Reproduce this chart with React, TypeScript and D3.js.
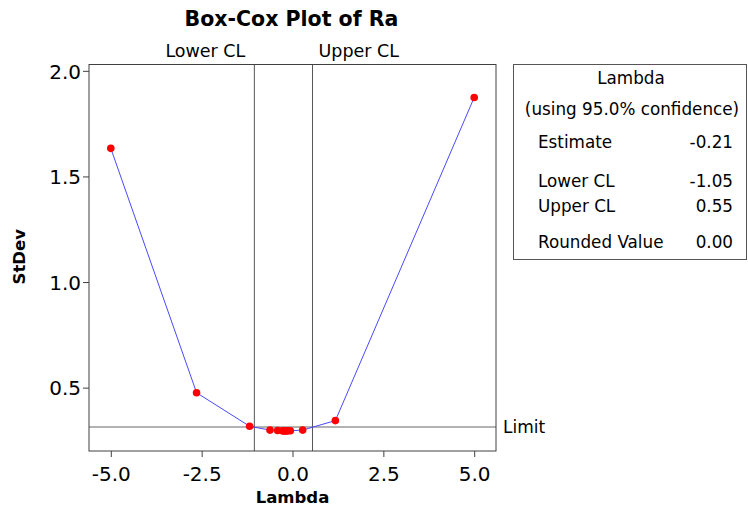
import React, { useEffect, useRef } from 'react';
import * as d3 from 'd3';

// lambda values evaluated by the search, and the StDev at each
const lambdas = [-5, -2.64, -1.18, -0.62, -0.41, -0.28, -0.23, -0.19, -0.14, -0.06, 0.28, 1.18, 5];
const stdevs = [1.633, 0.476, 0.317, 0.299, 0.297, 0.2955, 0.295, 0.295, 0.2952, 0.2958, 0.299, 0.344, 1.874];

const xTicks = [-5, -2.5, 0, 2.5, 5];
const yTicks = [0.5, 1.0, 1.5, 2.0];

const lowerCL = -1.05;
const upperCL = 0.55;
const limit = 0.314;

const tableLabels = ['Estimate', 'Lower CL', 'Upper CL', 'Rounded Value'];
const tableValues = ['-0.21', '-1.05', '0.55', '0.00'];

const FONT = '"DejaVu Sans", Tahoma, sans-serif';

const App = () => {
  const svgRef = useRef<SVGSVGElement>(null);

  useEffect(() => {
    const svg = d3.select(svgRef.current);
    svg.selectAll('*').remove();

    const left = 89, right = 496, top = 64.5, bottom = 451;

    const x = d3.scaleLinear().domain([-5.6, 5.6]).range([left, right]);
    const y = d3.scaleLinear().domain([0.2, 2.03]).range([bottom, top]);

    svg.append('rect')
      .attr('width', 748).attr('height', 511).attr('fill', '#fff');

    // title
    svg.append('text')
      .attr('x', 291.5).attr('y', 26)
      .attr('text-anchor', 'middle')
      .style('font-family', FONT).style('font-weight', 'bold').style('font-size', '20.5px')
      .text('Box-Cox Plot of Ra');

    // axes
    const xAxis = svg.append('g')
      .attr('transform', `translate(0,${bottom})`)
      .call(d3.axisBottom(x).tickValues(xTicks).tickSize(6).tickSizeOuter(0)
        .tickFormat(d => (d as number).toFixed(1)));
    const yAxis = svg.append('g')
      .attr('transform', `translate(${left},0)`)
      .call(d3.axisLeft(y).tickValues(yTicks).tickSize(6).tickSizeOuter(0)
        .tickFormat(d => (d as number).toFixed(1)));

    [xAxis, yAxis].forEach(a => {
      a.select('.domain').remove();
      a.selectAll('line').attr('stroke', '#404040');
      a.selectAll('text')
        .style('font-family', FONT).style('font-size', '20px').attr('fill', '#000');
    });
    xAxis.selectAll('text').attr('dy', '1.05em');
    yAxis.selectAll('text').attr('x', -8).attr('dy', '0.36em');

    // reference lines
    svg.append('line')
      .attr('x1', left).attr('x2', right)
      .attr('y1', y(limit)).attr('y2', y(limit))
      .attr('stroke', '#999').attr('stroke-width', 1.5);
    [lowerCL, upperCL].forEach(v => {
      svg.append('line')
        .attr('x1', x(v)).attr('x2', x(v))
        .attr('y1', top).attr('y2', bottom)
        .attr('stroke', '#555').attr('stroke-width', 1);
    });

    // frame
    svg.append('rect')
      .attr('x', left).attr('y', top)
      .attr('width', right - left).attr('height', bottom - top)
      .attr('fill', 'none').attr('stroke', '#404040').attr('stroke-width', 1);

    // curve
    const pts = lambdas.map((l, i) => [l, stdevs[i]] as [number, number]);
    svg.append('path')
      .datum(pts)
      .attr('fill', 'none')
      .attr('stroke', '#4a4aff')
      .attr('stroke-width', 1)
      .attr('d', d3.line<[number, number]>().x(d => x(d[0])).y(d => y(d[1])));

    svg.selectAll('.pt')
      .data(pts)
      .enter().append('circle')
      .attr('class', 'pt')
      .attr('cx', d => x(d[0]))
      .attr('cy', d => y(d[1]))
      .attr('r', 3.8)
      .attr('fill', '#ff0000');

    // labels
    svg.append('text')
      .attr('x', x(lowerCL) - 9).attr('y', 57)
      .attr('text-anchor', 'end')
      .style('font-family', FONT).style('font-size', '17.5px')
      .text('Lower CL');
    svg.append('text')
      .attr('x', x(upperCL) + 6).attr('y', 57)
      .style('font-family', FONT).style('font-size', '17.5px')
      .text('Upper CL');
    svg.append('text')
      .attr('x', 503).attr('y', y(limit) + 6)
      .style('font-family', FONT).style('font-size', '17px')
      .text('Limit');

    svg.append('text')
      .attr('transform', `translate(25,${(top + bottom) / 2 - 1}) rotate(-90)`)
      .attr('text-anchor', 'middle')
      .style('font-family', FONT).style('font-weight', 'bold').style('font-size', '16.5px')
      .text('StDev');
    svg.append('text')
      .attr('x', (left + right) / 2).attr('y', 503)
      .attr('text-anchor', 'middle')
      .style('font-family', FONT).style('font-weight', 'bold').style('font-size', '16.5px')
      .text('Lambda');

    // lambda table
    const box = svg.append('g');
    box.append('rect')
      .attr('x', 513.5).attr('y', 64.5).attr('width', 233).attr('height', 195)
      .attr('fill', '#fff').attr('stroke', '#555').attr('stroke-width', 1);
    box.append('text')
      .attr('x', 631).attr('y', 84)
      .attr('text-anchor', 'middle')
      .style('font-family', FONT).style('font-size', '16.8px')
      .text('Lambda');
    box.append('text')
      .attr('x', 632).attr('y', 115)
      .attr('text-anchor', 'middle')
      .style('font-family', FONT).style('font-size', '16.8px')
      .text('(using 95.0% confidence)');
    const rowY = [148, 187, 212, 248];
    tableLabels.forEach((t, i) => {
      box.append('text')
        .attr('x', 538).attr('y', rowY[i])
        .style('font-family', FONT).style('font-size', '16.8px')
        .text(t);
      box.append('text')
        .attr('x', 733).attr('y', rowY[i])
        .attr('text-anchor', 'end')
        .style('font-family', FONT).style('font-size', '16.8px')
        .text(tableValues[i]);
    });
  }, []);

  return (
    <svg
      ref={svgRef}
      width={748}
      height={511}
      style={{ position: 'absolute', left: 0, top: 0 }}
    />
  );
};

export default App;
